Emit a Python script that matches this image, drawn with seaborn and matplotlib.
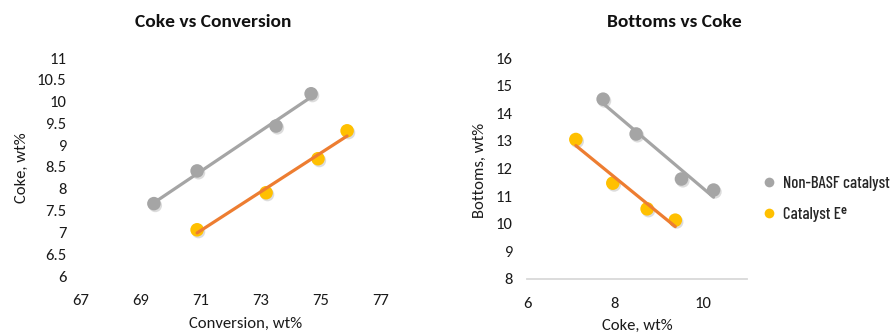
import matplotlib
matplotlib.use("Agg")
import matplotlib.pyplot as plt
import matplotlib.patheffects as pe
from matplotlib.lines import Line2D
import seaborn as sns
import pandas as pd

# Data
conv_nonbasf = [69.43, 70.87, 73.50, 74.67]
coke_nonbasf = [7.66, 8.41, 9.44, 10.18]
conv_cate = [70.87, 73.17, 74.90, 75.87]
coke_cate = [7.06, 7.91, 8.69, 9.33]

coke2_nonbasf = [7.73, 8.48, 9.51, 10.24]
bottoms_nonbasf = [14.51, 13.25, 11.62, 11.22]
coke2_cate = [7.11, 7.95, 8.73, 9.37]
bottoms_cate = [13.05, 11.47, 10.54, 10.13]

series_names = ["Non-BASF catalyst", "Catalyst E\u1d49"]
left_xticks = [67, 69, 71, 73, 75, 77]
left_yticks = [6, 6.5, 7, 7.5, 8, 8.5, 9, 9.5, 10, 10.5, 11]
left_yticklabels = ["6", "6.5", "7", "7.5", "8", "8.5", "9", "9.5", "10", "10.5", "11"]
right_xticks = [6, 8, 10]
right_yticks = [8, 9, 10, 11, 12, 13, 14, 15, 16]

GRAY = "#A5A5A5"
YELLOW = "#FFC000"
ORANGE = "#ED7D31"

sns.set_theme(style="white")
plt.rcParams["font.family"] = ["Carlito", "Lato", "DejaVu Sans"]

fig = plt.figure(figsize=(8.96, 3.34), dpi=100)
W, H = 896, 334

def ax_rect(x0, x1, ytop, ybot):
    return [x0 / W, 1 - ybot / H, (x1 - x0) / W, (ybot - ytop) / H]

ax1 = fig.add_axes(ax_rect(81, 411, 58, 276))
ax2 = fig.add_axes(ax_rect(527, 747, 58, 279))

shadow = [pe.SimplePatchShadow(offset=(1.0, -1.3), shadow_rgbFace="#777777", alpha=0.25), pe.Normal()]

def draw(ax, x1, y1, x2, y2):
    d1 = pd.DataFrame({"x": x1, "y": y1})
    d2 = pd.DataFrame({"x": x2, "y": y2})
    sns.regplot(data=d1, x="x", y="y", ax=ax, scatter=False, ci=None,
                line_kws=dict(color=GRAY, lw=2.3, zorder=2))
    sns.regplot(data=d2, x="x", y="y", ax=ax, scatter=False, ci=None,
                line_kws=dict(color=ORANGE, lw=2.3, zorder=4))
    sc1 = ax.scatter(d1["x"], d1["y"], s=95, color=GRAY, edgecolor="none", zorder=1)
    sc2 = ax.scatter(d2["x"], d2["y"], s=95, color=YELLOW, edgecolor="none", zorder=3)
    for sc in (sc1, sc2):
        sc.set_path_effects(shadow)

draw(ax1, conv_nonbasf, coke_nonbasf, conv_cate, coke_cate)
draw(ax2, coke2_nonbasf, bottoms_nonbasf, coke2_cate, bottoms_cate)

ax1.set_xlim(67, 78)
ax1.set_ylim(6, 11)
ax1.set_xticks(left_xticks)
ax1.set_yticks(left_yticks)
ax1.set_yticklabels(left_yticklabels)
ax2.set_xlim(6, 11)
ax2.set_ylim(8, 16)
ax2.set_xticks(right_xticks)
ax2.set_yticks(right_yticks)

for ax in (ax1, ax2):
    for s in ax.spines.values():
        s.set_visible(False)
    ax.tick_params(axis="both", length=0, labelsize=12, colors="#1a1a1a")
    ax.tick_params(axis="y", pad=10.5)
    ax.tick_params(axis="x", pad=13)
    ax.set_xlabel("")
    ax.set_ylabel("")
    ax.grid(False)

ax2.spines["bottom"].set_visible(True)
ax2.spines["bottom"].set_color("#D9D9D9")
ax2.spines["bottom"].set_linewidth(1.3)

# Titles and axis labels
fig.text(213 / W, 1 - 22 / H, "Coke vs Conversion", ha="center", va="center",
         fontsize=14, fontweight="bold", color="#111111")
fig.text(674 / W, 1 - 22 / H, "Bottoms vs Coke", ha="center", va="center",
         fontsize=14, fontweight="bold", color="#111111")
fig.text(246 / W, 1 - 324 / H, "Conversion, wt%", ha="center", va="center",
         fontsize=12, color="#1a1a1a")
fig.text(637 / W, 1 - 326 / H, "Coke, wt%", ha="center", va="center",
         fontsize=12, color="#1a1a1a")
fig.text(22 / W, 1 - 168 / H, "Coke, wt%", ha="center", va="center",
         rotation=90, fontsize=12, color="#1a1a1a")
fig.text(480 / W, 1 - 170 / H, "Bottoms, wt%", ha="center", va="center",
         rotation=90, fontsize=12, color="#1a1a1a")

# Legend
handles = [Line2D([], [], ls="none", marker="o", ms=7, mfc=GRAY, mec="none"),
           Line2D([], [], ls="none", marker="o", ms=7, mfc=YELLOW, mec="none")]
leg = fig.legend(handles, series_names, loc="center left",
                 bbox_to_anchor=(761 / W, 1 - 199 / H), frameon=False,
                 borderpad=0, borderaxespad=0,
                 handletextpad=0.3, labelspacing=1.0, handlelength=1.0,
                 prop=dict(family=["Barlow Condensed", "Roboto Condensed", "DejaVu Sans"],
                           size=12, weight="medium"))

fig.savefig("out.png", dpi=100)
